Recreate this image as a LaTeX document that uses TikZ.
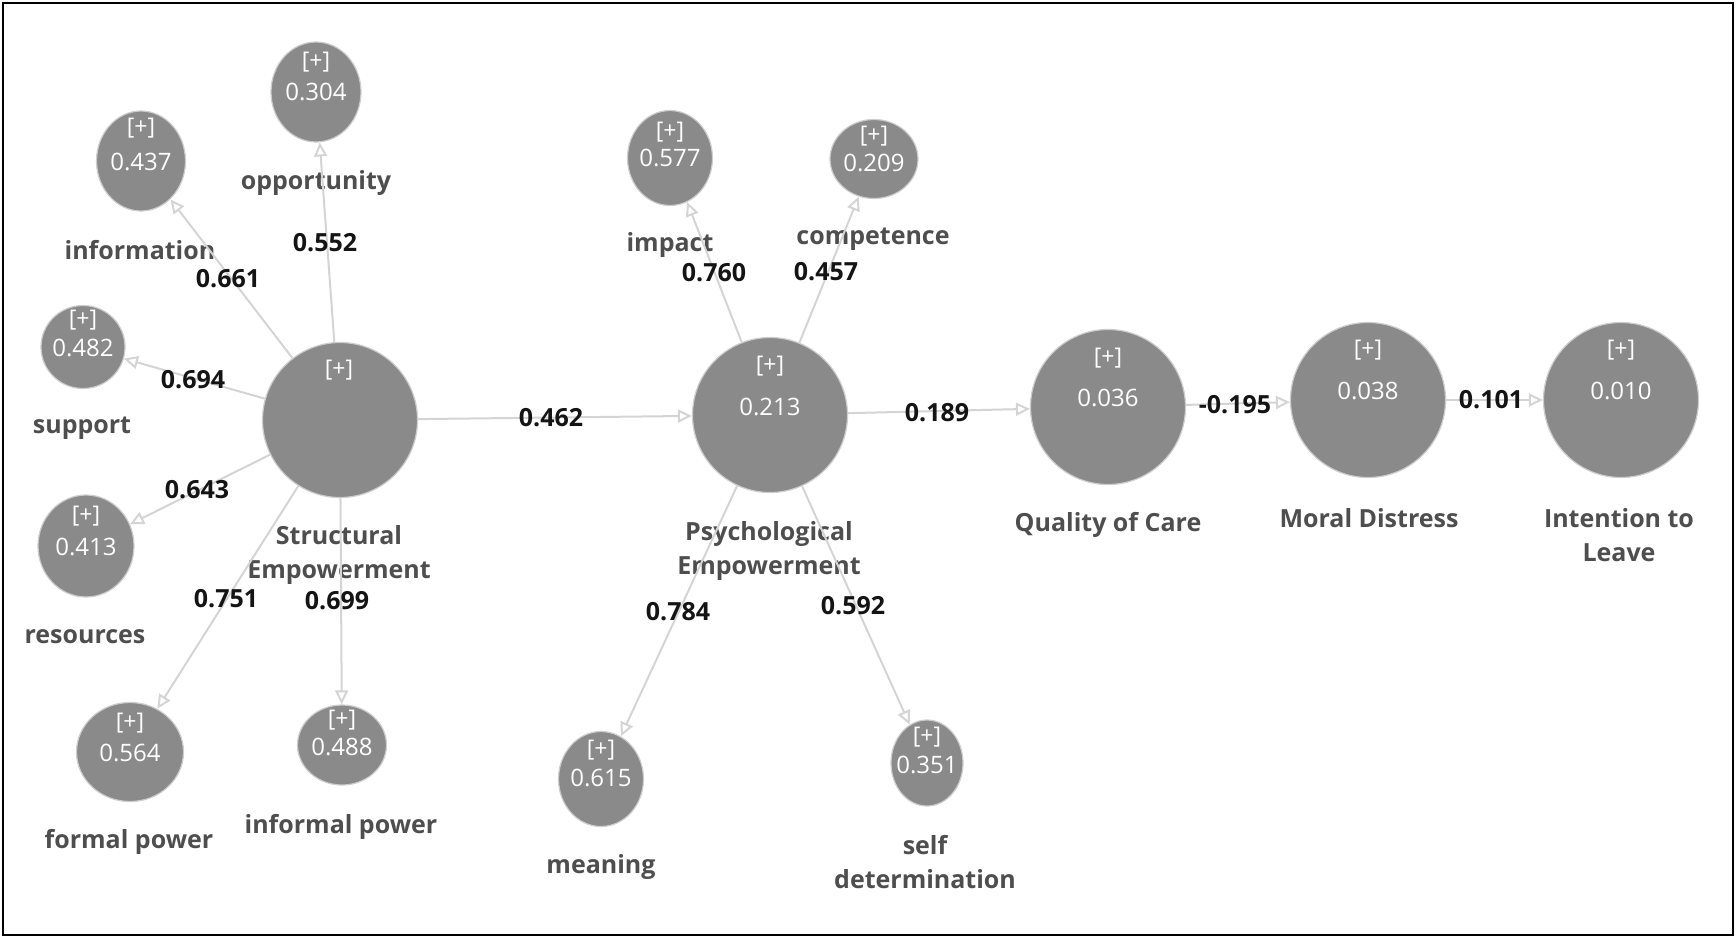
\documentclass[tikz,border=0pt]{standalone}
\usepackage{fontspec}
\setmainfont{Open Sans}
\usetikzlibrary{shapes.geometric,arrows.meta,positioning}
\definecolor{circgray}{RGB}{138,138,138}
\definecolor{rimgray}{RGB}{205,205,205}
\definecolor{linegray}{RGB}{212,212,212}
\definecolor{labelgray}{RGB}{78,78,78}

\begin{document}
\begin{tikzpicture}[x=0.5pt, y=-0.5pt,
    ind/.style={ellipse, fill=circgray, draw=rimgray, line width=0.6pt, inner sep=0pt},
    latent/.style={ind, minimum width=77.5pt, minimum height=77.5pt},
    plustxt/.style={text=white, font=\fontsize{11.5}{13}\selectfont},
    valtxt/.style={text=white, font=\fontsize{12}{14}\selectfont},
    lbl/.style={text=labelgray, align=center, font=\fontsize{12.5}{17}\selectfont\bfseries},
    coef/.style={text=black!92, font=\fontsize{12.5}{15}\selectfont\bfseries},
    arrow/.style={-{Triangle[open,length=7pt,width=6.5pt]}, draw=linegray, line width=1pt}
]
    \useasboundingbox (0,0) rectangle (1736,938);
    \draw[line width=1pt] (3,3) rectangle (1733,935);

    % latent variables
    \node[latent] (se) at (340,420) {};
    \node[latent] (pe) at (770,415) {};
    \node[latent] (qoc) at (1108,407) {};
    \node[latent] (md) at (1368,400) {};
    \node[latent] (itl) at (1621,400) {};

    % structural empowerment indicators
    \node[ind, minimum width=45pt, minimum height=50pt] (opp) at (316,92) {};
    \node[ind, minimum width=44.5pt, minimum height=50pt] (inf) at (141,161) {};
    \node[ind, minimum width=42pt, minimum height=41.5pt] (sup) at (83,347) {};
    \node[ind, minimum width=48pt, minimum height=51pt] (res) at (86,546) {};
    \node[ind, minimum width=53.5pt, minimum height=49.5pt] (fpow) at (130,752) {};
    \node[ind, minimum width=44.5pt, minimum height=40pt] (ipow) at (342,745) {};

    % psychological empowerment indicators
    \node[ind, minimum width=42.5pt, minimum height=47.5pt] (imp) at (670,158) {};
    \node[ind, minimum width=44pt, minimum height=39.5pt] (comp) at (874,159) {};
    \node[ind, minimum width=42.5pt, minimum height=47.5pt] (mean) at (601,779) {};
    \node[ind, minimum width=36pt, minimum height=43pt] (sdet) at (927,763) {};

    % texts inside the circles
    \node[plustxt] (se-p) at (339,370) {[+]};
    \node[plustxt] (pe-p) at (770,366) {[+]};
    \node[valtxt] (pe-v) at (770,407) {0.213};
    \node[plustxt] (qoc-p) at (1108,358) {[+]};
    \node[valtxt] (qoc-v) at (1108,398) {0.036};
    \node[plustxt] (md-p) at (1368,350) {[+]};
    \node[valtxt] (md-v) at (1368,391) {0.038};
    \node[plustxt] (itl-p) at (1621,350) {[+]};
    \node[valtxt] (itl-v) at (1621,391) {0.010};

    \node[plustxt] (opp-p) at (316,62) {[+]};
    \node[valtxt] (opp-v) at (316,92) {0.304};
    \node[plustxt] (inf-p) at (141,128) {[+]};
    \node[valtxt] (inf-v) at (141,162) {0.437};
    \node[plustxt] (sup-p) at (83,320) {[+]};
    \node[valtxt] (sup-v) at (83,348) {0.482};
    \node[plustxt] (res-p) at (86,516) {[+]};
    \node[valtxt] (res-v) at (86,547) {0.413};
    \node[plustxt] (fpow-p) at (130,723) {[+]};
    \node[valtxt] (fpow-v) at (130,753) {0.564};
    \node[plustxt] (ipow-p) at (342,720) {[+]};
    \node[valtxt] (ipow-v) at (342,747) {0.488};
    \node[plustxt] (imp-p) at (670,132) {[+]};
    \node[valtxt] (imp-v) at (670,158) {0.577};
    \node[plustxt] (comp-p) at (874,136) {[+]};
    \node[valtxt] (comp-v) at (874,163) {0.209};
    \node[plustxt] (mean-p) at (601,750) {[+]};
    \node[valtxt] (mean-v) at (601,778) {0.615};
    \node[plustxt] (sdet-p) at (927,737) {[+]};
    \node[valtxt] (sdet-v) at (927,765) {0.351};

    % names
    \node[lbl] (opp-l) at (316,183) {opportunity};
    \node[lbl] (inf-l) at (140,250) {information};
    \node[lbl] (sup-l) at (82,428) {support};
    \node[lbl] (res-l) at (85,637) {resources};
    \node[lbl] (fpow-l) at (129,842) {formal power};
    \node[lbl] (ipow-l) at (341,827) {informal power};
    \node[lbl] (se-l) at (339,555) {Structural\\Empowerment};
    \node[lbl] (imp-l) at (670,245) {impact};
    \node[lbl] (comp-l) at (873,239) {competence};
    \node[lbl] (pe-l) at (769,551) {Psychological\\Empowerment};
    \node[lbl] (mean-l) at (601,867) {meaning};
    \node[lbl] (sdet-l) at (925,862) {self\\determination};
    \node[lbl] (qoc-l) at (1108,525) {Quality of Care};
    \node[lbl] (md-l) at (1369,518) {Moral Distress};
    \node[lbl] (itl-l) at (1619,535) {Intention to\\Leave};

    % paths
    \draw[arrow] (se) -- (opp);
    \draw[arrow] (se) -- (inf);
    \draw[arrow] (se) -- (sup);
    \draw[arrow] (se) -- (res);
    \draw[arrow] (se) -- (fpow);
    \draw[arrow] (se) -- (ipow);
    \draw[arrow] (pe) -- (imp);
    \draw[arrow] (pe) -- (comp);
    \draw[arrow] (pe) -- (mean);
    \draw[arrow] (pe) -- (sdet);
    \draw[arrow] (se) -- (pe);
    \draw[arrow] (pe) -- (qoc);
    \draw[arrow] (qoc) -- (md);
    \draw[arrow] (md) -- (itl);

    % coefficients
    \node[coef] (c-opp) at (325,243) {0.552};
    \node[coef] (c-inf) at (228,279) {0.661};
    \node[coef] (c-sup) at (193,380) {0.694};
    \node[coef] (c-res) at (197,490) {0.643};
    \node[coef] (c-fpow) at (226,599) {0.751};
    \node[coef] (c-ipow) at (337,601) {0.699};
    \node[coef] (c-imp) at (714,273) {0.760};
    \node[coef] (c-comp) at (826,272) {0.457};
    \node[coef] (c-mean) at (678,612) {0.784};
    \node[coef] (c-sdet) at (853,606) {0.592};
    \node[coef] (c-sepe) at (551,418) {0.462};
    \node[coef] (c-peqoc) at (937,413) {0.189};
    \node[coef] (c-qocmd) at (1235,405) {-0.195};
    \node[coef] (c-mditl) at (1491,400) {0.101};
\end{tikzpicture}
\end{document}
